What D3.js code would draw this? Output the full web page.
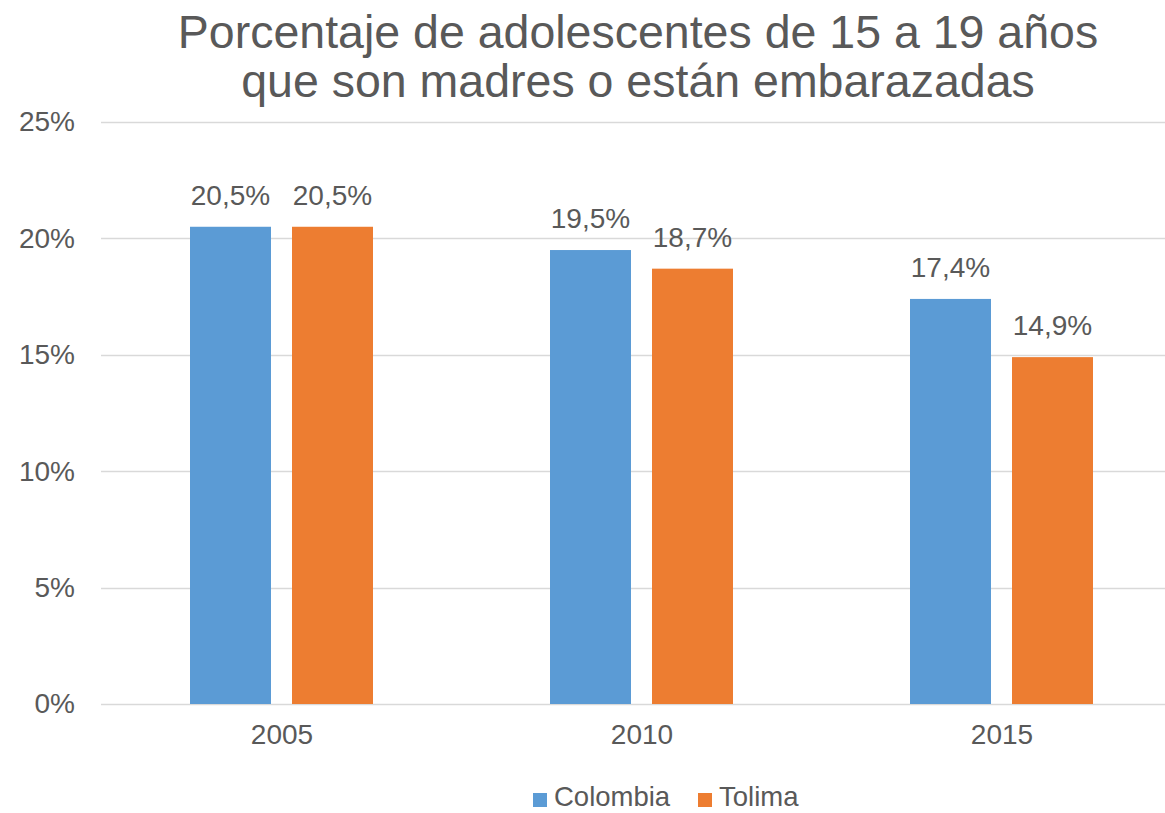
<!DOCTYPE html>
<html><head><meta charset="utf-8">
<script src="https://cdn.jsdelivr.net/npm/d3@7"></script>
<style>body{margin:0;background:#fff}svg{display:block}text{font-family:"Liberation Sans",Arial,sans-serif;fill:#595959}</style>
</head><body>
<svg id="c" width="1165" height="813"></svg>
<script>
const categories = ["2005", "2010", "2015"];
const seriesNames = ["Colombia", "Tolima"];
const colombia = [20.5, 19.5, 17.4];
const tolima = [20.5, 18.7, 14.9];
const yTicks = [0, 5, 10, 15, 20, 25];
const titleLines = ["Porcentaje de adolescentes de 15 a 19 años", "que son madres o están embarazadas"];
const colors = ["#5B9BD5", "#ED7D31"];

const FS = 28;
const svg = d3.select("#c");
const x0 = d3.scaleBand().domain(categories).range([102, 1182]);
const x1 = d3.scaleBand().domain(seriesNames).range([88, 271]).paddingInner(0.206);
const y = d3.scaleLinear().domain([0, 25]).range([704, 122]);

svg.append("g").selectAll("line").data(yTicks).join("line")
  .attr("x1", 101).attr("x2", 1165)
  .attr("y1", d => Math.round(y(d)) + 0.5).attr("y2", d => Math.round(y(d)) + 0.5)
  .attr("stroke", "#d9d9d9").attr("stroke-width", 1.5);

const yAxis = d3.axisLeft(y).tickValues(yTicks).tickSize(0).tickPadding(0).tickFormat(d => d + "%");
const ya = svg.append("g").attr("transform", "translate(75,0)").call(yAxis);
ya.select(".domain").remove();
ya.selectAll("text").attr("font-size", FS).attr("fill", "#595959").attr("font-family", "Liberation Sans, Arial, sans-serif");

const xAxis = d3.axisBottom(x0).tickSize(0).tickPadding(0);
const xa = svg.append("g").attr("transform", "translate(0,724)").call(xAxis);
xa.select(".domain").remove();
xa.selectAll("text").attr("font-size", FS).attr("fill", "#595959").attr("font-family", "Liberation Sans, Arial, sans-serif");

const series = [colombia, tolima];
const groups = svg.append("g").selectAll("g").data(categories).join("g")
  .attr("transform", d => `translate(${x0(d)},0)`);
groups.each(function(cat, i) {
  const g = d3.select(this);
  const vals = seriesNames.map((s, j) => ({s, v: series[j][i], c: colors[j]}));
  g.selectAll("rect").data(vals).join("rect")
    .attr("x", d => x1(d.s)).attr("width", x1.bandwidth())
    .attr("y", d => y(d.v)).attr("height", d => y(0) - y(d.v))
    .attr("fill", d => d.c);
  g.selectAll("text").data(vals).join("text")
    .attr("x", d => x1(d.s) + x1.bandwidth() / 2)
    .attr("y", d => y(d.v) - 22)
    .attr("text-anchor", "middle").attr("font-size", FS)
    .text(d => d.v.toFixed(1).replace(".", ",") + "%");
});

svg.append("g").selectAll("text").data(titleLines).join("text")
  .attr("x", 638).attr("y", (d, i) => 48 + i * 49)
  .attr("text-anchor", "middle").attr("font-size", 46.5)
  .text(d => d);

const legendX = [533, 698];
const lg = svg.append("g").selectAll("g").data(seriesNames).join("g")
  .attr("transform", (d, i) => `translate(${legendX[i]},0)`);
lg.append("rect").attr("x", 0).attr("y", 793).attr("width", 14).attr("height", 14)
  .attr("fill", (d, i) => colors[i]);
lg.append("text").attr("x", 21).attr("y", 806).attr("font-size", 27.5).text(d => d);
</script>
</body></html>
